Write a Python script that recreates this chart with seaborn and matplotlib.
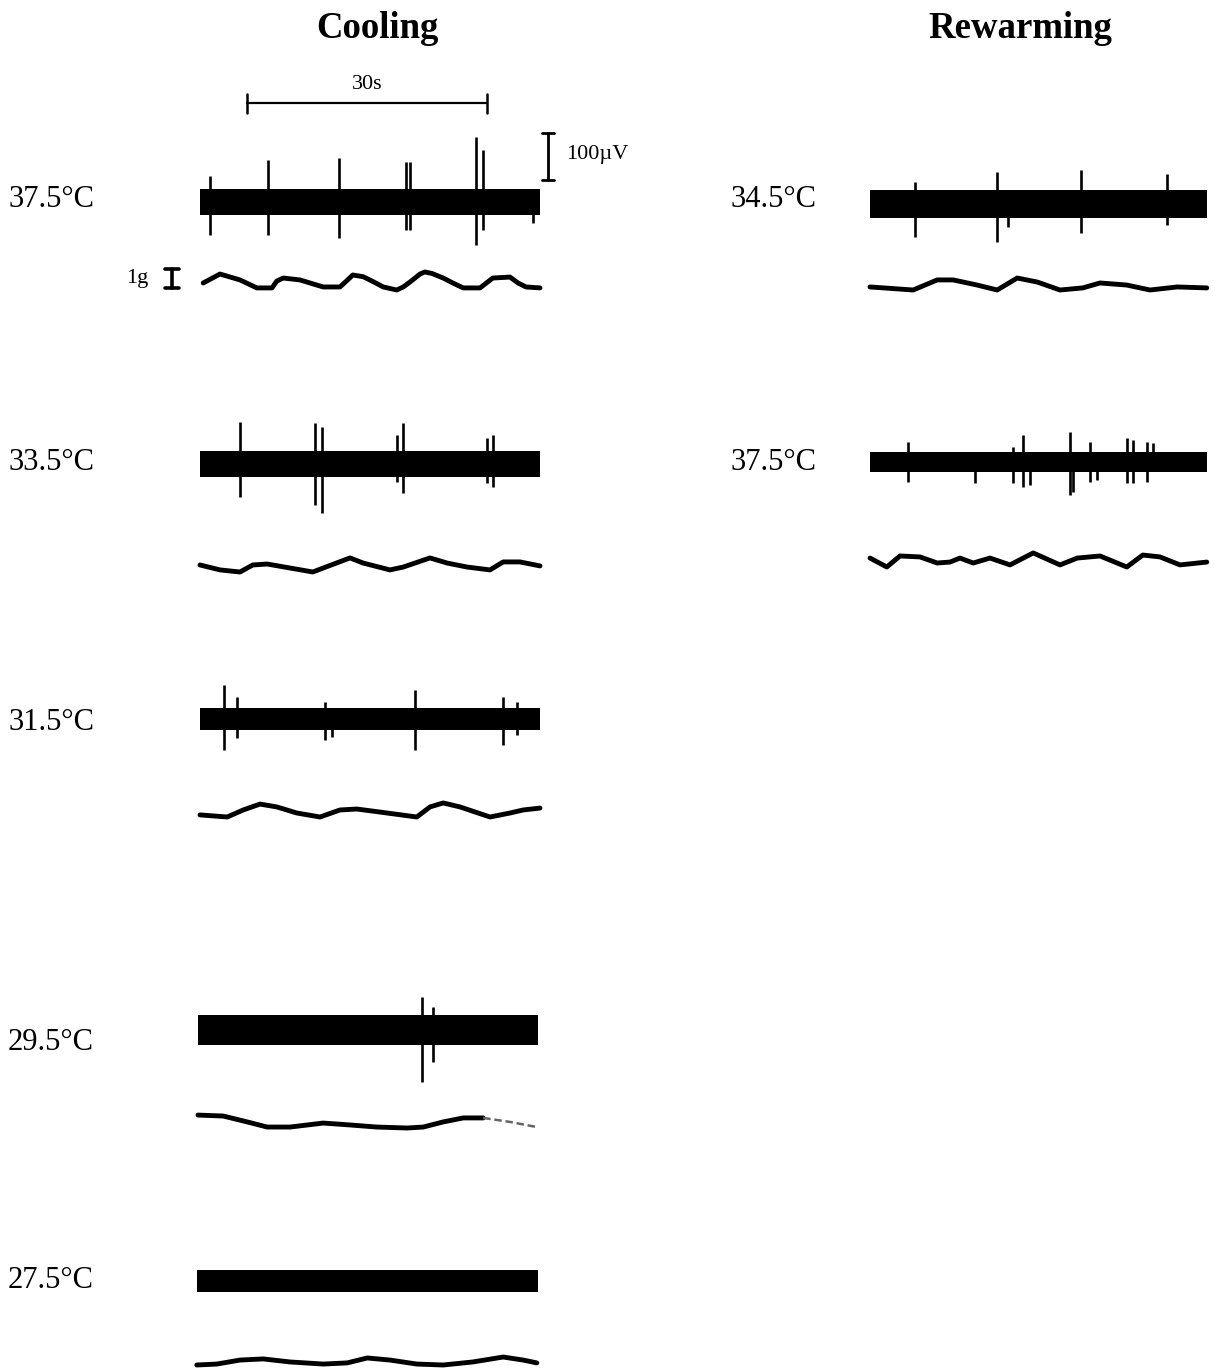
import matplotlib
matplotlib.use("Agg")
import numpy as np
import pandas as pd
import seaborn as sns
import matplotlib.pyplot as plt

# ---------------- data ----------------
cool_labels = ["37.5°C", "33.5°C", "31.5°C", "29.5°C", "27.5°C"]
warm_labels = ["34.5°C", "37.5°C"]
titles = ["Cooling", "Rewarming"]

# nerve recording: trace span (s), noise half-amplitude (µV), spikes (s, µV up, µV down)
c375_span = [0.0, 42.5]; c375_noise = 27
c375_spk_t = [1.25, 8.5, 17.4, 25.75, 26.25, 34.5, 35.4, 41.6]
c375_spk_up = [55, 89, 94, 85, 85, 138, 111, 0]
c375_spk_dn = [70, 70, 77, 60, 60, 91, 60, 45]

c335_span = [0.0, 42.5]; c335_noise = 27
c335_spk_t = [5.0, 14.4, 15.25, 24.6, 25.4, 35.9, 36.6]
c335_spk_up = [89, 87, 79, 62, 87, 55, 62]
c335_spk_dn = [70, 87, 104, 38, 62, 40, 49]

c315_span = [0.0, 42.5]; c315_noise = 23
c315_spk_t = [3.0, 4.6, 15.6, 16.5, 26.9, 37.9, 39.6]
c315_spk_up = [72, 47, 36, 0, 62, 47, 36]
c315_spk_dn = [66, 40, 45, 38, 66, 55, 34]

c295_span = [-0.25, 42.25]; c295_noise = 32
c295_spk_t = [27.75, 29.1]
c295_spk_up = [70, 49]
c295_spk_dn = [111, 68]

c275_span = [-0.4, 42.25]; c275_noise = 23
c275_spk_t = []
c275_spk_up = []
c275_spk_dn = []

w345_span = [0.0, 42.1]; w345_noise = 30
w345_spk_t = [5.6, 15.9, 17.25, 26.4, 37.1]
w345_spk_up = [47, 68, 0, 72, 64]
w345_spk_dn = [70, 81, 49, 62, 45]

w375_span = [0.0, 42.1]; w375_noise = 21
w375_spk_t = [4.75, 13.1, 17.9, 19.1, 20.0, 25.0, 25.4, 27.5, 28.4, 32.1, 32.9, 34.6, 35.4]
w375_spk_up = [43, 0, 32, 57, 0, 64, 0, 43, 0, 51, 47, 43, 40]
w375_spk_dn = [43, 45, 45, 53, 49, 70, 64, 43, 38, 45, 45, 43, 0]

# force traces: time (s), force (g)
c375_f_t = [0.4, 2.5, 5.0, 7.1, 9.0, 9.6, 10.4, 12.5, 14.6, 15.4, 17.5, 18.3, 19.1, 20.4,
            21.6, 22.9, 24.6, 25.4, 26.25, 27.5, 28.1, 29.0, 30.4, 31.6, 32.9, 35.0, 35.8,
            36.6, 38.75, 39.75, 40.75, 42.5]
c375_f_g = [0.37, 0.84, 0.53, 0.11, 0.11, 0.47, 0.63, 0.53, 0.26, 0.16, 0.16, 0.47, 0.79,
            0.70, 0.45, 0.16, 0.0, 0.16, 0.42, 0.84, 0.95, 0.87, 0.63, 0.37, 0.11, 0.11, 0.37,
            0.63, 0.68, 0.37, 0.16, 0.11]

c335_f_t = [0, 2.5, 5.0, 6.6, 8.4, 11.25, 14.1, 15.4, 18.75, 20.4, 23.75, 25.4, 28.75,
            30.9, 33.4, 36.25, 37.9, 40.0, 42.5]
c335_f_g = [0.37, 0.11, 0, 0.37, 0.42, 0.21, 0, 0.21, 0.74, 0.47, 0.11, 0.26, 0.74,
            0.47, 0.26, 0.11, 0.53, 0.53, 0.32]

c315_f_t = [0, 3.4, 5.4, 7.5, 9.6, 12.1, 15.0, 17.5, 19.6, 22.5, 27.1, 28.75, 30.4,
            32.5, 36.25, 38.75, 40.4, 42.5]
c315_f_g = [0.11, 0, 0.37, 0.68, 0.53, 0.21, 0, 0.37, 0.42, 0.26, 0, 0.53, 0.74,
            0.53, 0, 0.21, 0.37, 0.47]

c295_f_t = [-0.25, 2.9, 5.9, 8.4, 11.25, 15.4, 18.75, 22.1, 25.9, 27.9, 30.4, 32.9,
            35.4, 38.75, 42.1]
c295_f_g = [0.68, 0.63, 0.32, 0.05, 0.05, 0.26, 0.16, 0.05, 0, 0.05, 0.32, 0.53,
            0.53, 0.32, 0.05]

c275_f_t = [-0.4, 2.1, 5.0, 7.9, 11.25, 15.4, 18.4, 20.9, 23.75, 27.1, 30.4, 34.1,
            37.9, 40.4, 42.1]
c275_f_g = [0, 0.05, 0.26, 0.32, 0.16, 0.05, 0.11, 0.37, 0.26, 0.05, 0, 0.16,
            0.42, 0.26, 0.11]

w345_f_t = [0, 5.4, 8.4, 10.4, 13.4, 15.9, 18.4, 20.9, 23.75, 26.6, 28.75, 32.1,
            35.0, 38.4, 42.1]
w345_f_g = [0.16, 0, 0.53, 0.53, 0.26, 0, 0.63, 0.42, 0, 0.11, 0.37, 0.26,
            0, 0.16, 0.11]

w375_f_t = [0, 2.1, 3.75, 6.25, 8.4, 10.0, 11.25, 12.9, 15.0, 17.5, 20.4, 23.75,
            25.9, 28.75, 32.1, 34.1, 36.25, 38.75, 42.1]
w375_f_g = [0.47, 0, 0.58, 0.53, 0.21, 0.26, 0.47, 0.21, 0.47, 0.11, 0.74, 0.11,
            0.47, 0.58, 0, 0.63, 0.53, 0.11, 0.26]

scale_time_s = 30
scale_volt_uV = 100
scale_force_g = 1

# ---------------- layout / style ----------------
W, H = 1216, 1370
PX_PER_S = 8.0
PX_PER_UV = 0.47
PX_PER_G = 19.0

sns.set_theme(style="white")
plt.rcParams["font.family"] = ["Liberation Serif", "DejaVu Serif"]
plt.rcParams["text.color"] = "black"

fig = plt.figure(figsize=(W / 100, H / 100), dpi=100)
fig.patch.set_facecolor("white")


def px_axes(left, top, width, height):
    ax = fig.add_axes([left / W, 1 - (top + height) / H, width / W, height / H])
    ax.patch.set_alpha(0)
    return ax


def nerve_axes(x0, yc, half_px=70):
    ax = px_axes(x0 - 1 * PX_PER_S, yc - half_px, 45 * PX_PER_S, 2 * half_px)
    ax.set_xlim(-1, 44)
    ax.set_ylim(-half_px / PX_PER_UV, half_px / PX_PER_UV)
    ax.set_axis_off()
    return ax


def force_axes(x0, base):
    ax = px_axes(x0 - 1 * PX_PER_S, base - 40, 45 * PX_PER_S, 50)
    return ax


def draw_nerve(ax, span, noise, st, su, sd):
    ax.fill_between(span, [-noise, -noise], [noise, noise], color="black", lw=0)
    if st:
        ax.vlines(st, [-d for d in sd], su, color="black", lw=1.9)


def draw_force(ax, t, g, fade_after=None):
    df = pd.DataFrame({"t": t, "g": g})
    if fade_after is None:
        sns.lineplot(data=df, x="t", y="g", ax=ax, color="black", lw=3.5,
                     estimator=None, sort=False, legend=False)
    else:
        solid = df[df.t <= fade_after]
        faded = df[df.t >= fade_after]
        sns.lineplot(data=solid, x="t", y="g", ax=ax, color="black", lw=3.5,
                     estimator=None, sort=False, legend=False)
        sns.lineplot(data=faded, x="t", y="g", ax=ax, color="#666666", lw=1.8,
                     estimator=None, sort=False, legend=False, linestyle=(0, (3, 1.5)))
    for ln in ax.lines:
        ln.set_solid_joinstyle("round")
        ln.set_solid_capstyle("round")
    ax.set_xlim(-1, 44)
    ax.set_ylim(-10 / PX_PER_G, 40 / PX_PER_G)
    ax.set_axis_off()


cool_nerve = [
    (c375_span, c375_noise, c375_spk_t, c375_spk_up, c375_spk_dn),
    (c335_span, c335_noise, c335_spk_t, c335_spk_up, c335_spk_dn),
    (c315_span, c315_noise, c315_spk_t, c315_spk_up, c315_spk_dn),
    (c295_span, c295_noise, c295_spk_t, c295_spk_up, c295_spk_dn),
    (c275_span, c275_noise, c275_spk_t, c275_spk_up, c275_spk_dn),
]
cool_force = [(c375_f_t, c375_f_g), (c335_f_t, c335_f_g), (c315_f_t, c315_f_g),
              (c295_f_t, c295_f_g), (c275_f_t, c275_f_g)]
warm_nerve = [
    (w345_span, w345_noise, w345_spk_t, w345_spk_up, w345_spk_dn),
    (w375_span, w375_noise, w375_spk_t, w375_spk_up, w375_spk_dn),
]
warm_force = [(w345_f_t, w345_f_g), (w375_f_t, w375_f_g)]

cool_x0 = 200
warm_x0 = 870
cool_band_y = [202, 464, 719, 1030, 1281]
cool_force_base = [290, 572, 817, 1128, 1365]
cool_label_y = [199, 462, 722, 1042, 1280]
warm_band_y = [204, 462]
warm_force_base = [290, 567]
warm_label_y = [199, 462]

overlay = fig.add_axes([0, 0, 1, 1])
overlay.set_xlim(0, W)
overlay.set_ylim(H, 0)
overlay.set_axis_off()
overlay.patch.set_alpha(0)

overlay.text(377, 28, titles[0], ha="center", va="center", fontsize=26.5,
             fontweight="bold", color="black")
overlay.text(1020, 28, titles[1], ha="center", va="center", fontsize=26.5,
             fontweight="bold", color="black")

nerve_axs = []
for i in range(len(cool_labels)):
    ax = nerve_axes(cool_x0, cool_band_y[i])
    draw_nerve(ax, *cool_nerve[i])
    nerve_axs.append(ax)
    fa = force_axes(cool_x0, cool_force_base[i])
    draw_force(fa, *cool_force[i], fade_after=35.4 if i == 3 else None)
    if i == 0:
        force0 = fa
    overlay.text(8, cool_label_y[i], cool_labels[i], ha="left", va="center",
                 fontsize=22, color="black")

for i in range(len(warm_labels)):
    ax = nerve_axes(warm_x0, warm_band_y[i])
    draw_nerve(ax, *warm_nerve[i])
    fa = force_axes(warm_x0, warm_force_base[i])
    draw_force(fa, *warm_force[i])
    overlay.text(731, warm_label_y[i], warm_labels[i], ha="left", va="center",
                 fontsize=22, color="black")

# scale bars (in data units of the first traces)
ax0 = nerve_axs[0]
tb0 = 5.875
yb = 210.0
ax0.plot([tb0, tb0 + scale_time_s], [yb, yb], color="black", lw=1.6, clip_on=False)
for tx in (tb0, tb0 + scale_time_s):
    ax0.plot([tx, tx], [yb - 20, yb + 20], color="black", lw=1.8, clip_on=False)
ax0.text(tb0 + scale_time_s / 2, yb + 40, f"{scale_time_s}s", ha="center", va="center",
         fontsize=16, color="black")

vx = 43.5
v0 = 47
ax0.plot([vx, vx], [v0, v0 + scale_volt_uV], color="black", lw=2.0, clip_on=False)
for vy in (v0, v0 + scale_volt_uV):
    ax0.plot([vx - 0.75, vx + 0.75], [vy, vy], color="black", lw=2.0, clip_on=False)
ax0.text(vx + 2.3, v0 + scale_volt_uV / 2 + 4, f"{scale_volt_uV}µV", ha="left",
         va="center", fontsize=16, color="black")

gx = -3.5
g0 = 0.1
force0.plot([gx, gx], [g0, g0 + scale_force_g], color="black", lw=2.6, clip_on=False)
for gy in (g0, g0 + scale_force_g):
    force0.plot([gx - 0.85, gx + 0.85], [gy, gy], color="black", lw=2.6, clip_on=False)
force0.text(gx - 3.0, g0 + scale_force_g / 2, f"{scale_force_g}g", ha="right",
            va="center", fontsize=16, color="black")

fig.savefig("out.png", dpi=100, facecolor="white")
